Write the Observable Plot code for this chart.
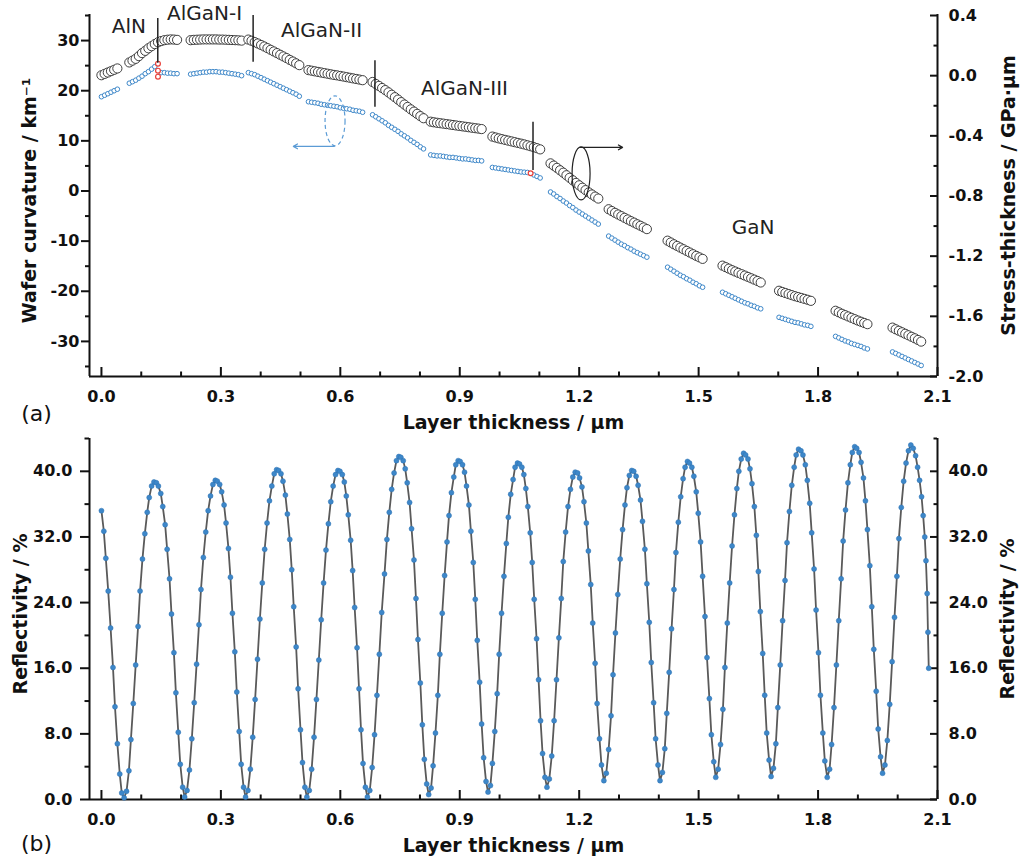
<!DOCTYPE html>
<html>
<head>
<meta charset="utf-8">
<script src="https://cdn.jsdelivr.net/npm/d3@7"></script>
<script src="https://cdn.jsdelivr.net/npm/@observablehq/plot@0.6"></script>
<style>
  body { margin: 0; background: #fff; }
  #chart { width: 1029px; height: 863px; background: #fff; }
  #chart svg { display: block; }
</style>
</head>
<body>
<div id="chart"></div>
<script>
// ---------------- DATA: panel (a) ----------------
// layer thickness (µm) of each in-situ sample, grouped by growth interval
const topThickness = [
  0.000,0.008,0.016,0.024,0.032,0.040,
  0.070,0.078,0.086,0.094,0.102,0.110,0.118,0.126,0.134,0.142,0.150,0.158,0.166,0.174,0.182,0.190,
  0.224,0.232,0.240,0.248,0.256,0.264,0.272,0.280,0.288,0.296,0.304,0.312,0.320,0.328,0.336,0.344,0.352,
  0.369,0.377,0.385,0.393,0.401,0.409,0.417,0.425,0.433,0.441,0.449,0.457,0.465,0.473,0.481,0.489,0.497,
  0.520,0.528,0.536,0.544,0.552,0.560,0.568,0.576,0.584,0.592,0.600,0.608,0.616,0.624,0.632,0.640,0.648,0.656,
  0.681,0.689,0.697,0.705,0.713,0.721,0.729,0.737,0.745,0.753,0.761,0.769,0.777,0.785,0.793,0.801,0.809,
  0.827,0.835,0.843,0.851,0.859,0.867,0.875,0.883,0.891,0.899,0.907,0.915,0.923,0.931,0.939,0.947,0.955,
  0.982,0.990,0.998,1.006,1.014,1.022,1.030,1.038,1.046,1.054,1.062,1.070,1.078,1.086,1.094,1.102,
  1.128,1.136,1.144,1.152,1.160,1.168,1.176,1.184,1.192,1.200,1.208,1.216,1.224,1.232,1.240,1.248,
  1.274,1.282,1.290,1.298,1.306,1.314,1.322,1.330,1.338,1.346,1.354,1.362,1.370,
  1.422,1.430,1.438,1.446,1.454,1.462,1.470,1.478,1.486,1.494,1.502,1.510,
  1.560,1.568,1.576,1.584,1.592,1.600,1.608,1.616,1.624,1.632,1.640,1.648,1.656,
  1.702,1.710,1.718,1.726,1.734,1.742,1.750,1.758,1.766,1.774,1.782,
  1.844,1.852,1.860,1.868,1.876,1.884,1.892,1.900,1.908,1.916,1.924,
  1.987,1.995,2.003,2.011,2.019,2.027,2.035,2.043,2.051,2.059
];
// wafer curvature (km^-1), blue open circles (null where the point is highlighted red)
const curvature = [
  18.8,19.1,19.4,19.7,20.0,20.3,
  21.5,21.8,22.1,22.5,22.9,23.4,23.8,24.3,24.8,null,23.6,23.6,23.5,23.5,23.4,23.4,
  23.3,23.4,23.5,23.6,23.7,23.7,23.8,23.8,23.8,23.7,23.7,23.6,23.5,23.4,23.3,23.2,23.0,
  23.6,23.4,23.2,22.9,22.6,22.3,22.0,21.7,21.4,21.1,20.8,20.5,20.2,19.9,19.6,19.3,18.9,
  17.8,17.7,17.6,17.5,17.3,17.2,17.1,17.0,16.9,16.8,16.6,16.5,16.4,16.3,16.1,16.0,15.9,15.7,
  15.2,14.8,14.4,14.0,13.6,13.1,12.7,12.3,11.9,11.4,11.0,10.6,10.1,9.7,9.3,8.8,8.4,
  7.2,7.1,7.0,7.0,6.9,6.8,6.7,6.7,6.6,6.5,6.4,6.4,6.3,6.2,6.1,6.1,6.0,
  4.7,4.6,4.5,4.4,4.3,4.2,4.1,4.0,3.9,3.8,3.75,3.7,null,3.2,2.9,2.6,
  -0.2,-0.6,-1.1,-1.5,-2.0,-2.4,-2.9,-3.3,-3.8,-4.2,-4.6,-5.0,-5.4,-5.8,-6.2,-6.6,
  -9.0,-9.4,-9.8,-10.2,-10.6,-10.9,-11.3,-11.6,-12.0,-12.3,-12.6,-12.9,-13.2,
  -15.2,-15.6,-16.0,-16.4,-16.8,-17.1,-17.5,-17.8,-18.2,-18.5,-18.9,-19.2,
  -20.2,-20.5,-20.8,-21.1,-21.4,-21.7,-22.0,-22.3,-22.5,-22.8,-23.0,-23.3,-23.5,
  -25.2,-25.4,-25.6,-25.8,-26.0,-26.2,-26.3,-26.5,-26.7,-26.8,-27.0,
  -29.0,-29.3,-29.6,-29.9,-30.1,-30.4,-30.6,-30.8,-31.0,-31.3,-31.5,
  -32.1,-32.4,-32.7,-33.0,-33.3,-33.6,-33.9,-34.2,-34.5,-34.8
];
// stress-thickness (GPa·µm), black open circles
const stressThickness = [
  0.003,0.012,0.021,0.030,0.039,0.048,
  0.088,0.100,0.112,0.130,0.150,0.165,0.182,0.196,0.210,0.222,0.230,0.236,0.239,0.241,0.240,0.238,
  0.236,0.238,0.239,0.240,0.241,0.241,0.241,0.241,0.241,0.240,0.240,0.239,0.238,0.237,0.236,0.235,0.233,
  0.240,0.232,0.223,0.214,0.204,0.194,0.183,0.172,0.161,0.150,0.139,0.128,0.117,0.105,0.094,0.082,0.070,
  0.037,0.033,0.029,0.025,0.021,0.017,0.013,0.009,0.005,0.002,-0.002,-0.006,-0.010,-0.014,-0.018,-0.022,-0.026,-0.030,
  -0.042,-0.055,-0.068,-0.082,-0.096,-0.111,-0.127,-0.143,-0.159,-0.176,-0.192,-0.208,-0.224,-0.239,-0.254,-0.269,-0.283,
  -0.306,-0.310,-0.313,-0.316,-0.319,-0.322,-0.325,-0.328,-0.331,-0.334,-0.337,-0.340,-0.343,-0.346,-0.349,-0.352,-0.355,
  -0.405,-0.411,-0.417,-0.422,-0.427,-0.432,-0.437,-0.442,-0.447,-0.452,-0.457,-0.463,-0.469,-0.475,-0.482,-0.490,
  -0.583,-0.598,-0.613,-0.629,-0.645,-0.662,-0.679,-0.696,-0.713,-0.729,-0.745,-0.761,-0.776,-0.790,-0.804,-0.817,
  -0.888,-0.900,-0.912,-0.923,-0.934,-0.945,-0.956,-0.967,-0.977,-0.988,-0.998,-1.009,-1.020,
  -1.097,-1.109,-1.121,-1.132,-1.143,-1.154,-1.165,-1.176,-1.187,-1.198,-1.208,-1.218,
  -1.263,-1.273,-1.283,-1.293,-1.302,-1.311,-1.320,-1.329,-1.338,-1.347,-1.356,-1.365,-1.375,
  -1.430,-1.438,-1.445,-1.452,-1.459,-1.466,-1.472,-1.478,-1.484,-1.490,-1.497,
  -1.563,-1.573,-1.583,-1.592,-1.601,-1.610,-1.619,-1.628,-1.636,-1.644,-1.652,
  -1.675,-1.686,-1.696,-1.706,-1.716,-1.726,-1.736,-1.746,-1.757,-1.768
];
// highlighted (red) curvature points at interface transitions
const redThickness = [0.142, 0.142, 0.142, 1.078];
const redCurvature = [25.4, 24.0, 22.8, 3.55];

// layer labels and interface markers
const layerLabels = ["AlN", "AlGaN-I", "AlGaN-II", "AlGaN-III", "GaN"];
const layerLabelX = [0.069, 0.259, 0.553, 0.912, 1.637];
const layerLabelY = [32.7, 35.3, 32.0, 20.4, -7.4];
const interfaceX = [0.1415, 0.381, 0.687, 1.084];
const interfaceLow = [25.5, 25.7, 16.7, 4.1];
const interfaceHigh = [34.4, 35.0, 26.0, 13.7];

// axes / ticks
const xMajor = [0.0, 0.3, 0.6, 0.9, 1.2, 1.5, 1.8, 2.1];
const xMinor = [0.1, 0.2, 0.4, 0.5, 0.7, 0.8, 1.0, 1.1, 1.3, 1.4, 1.6, 1.7, 1.9, 2.0];
const curvMajor = [-30, -20, -10, 0, 10, 20, 30];
const curvMinor = [-35, -25, -15, -5, 5, 15, 25, 35];
const stressMajor = [0.4, 0.0, -0.4, -0.8, -1.2, -1.6, -2.0];
const stressMinor = [0.2, -0.2, -0.6, -1.0, -1.4, -1.8];
const reflMajor = [0, 8, 16, 24, 32, 40];
const reflMinor = [4, 12, 20, 28, 36, 44];

// ---------------- DATA: panel (b) ----------------
const reflThickness = [
  0.000,0.006,0.011,0.017,0.023,0.029,0.034,0.040,0.046,0.051,0.057,
  0.063,0.069,0.074,0.080,0.086,0.092,0.097,0.103,0.109,0.115,0.120,0.126,0.132,
  0.138,0.143,0.149,0.154,0.160,0.165,0.171,0.176,0.182,0.187,0.193,0.198,0.204,0.209,
  0.215,0.221,0.227,0.233,0.239,0.245,0.250,0.256,0.262,0.268,0.274,0.280,0.286,
  0.291,0.297,0.302,0.308,0.313,0.319,0.324,0.329,0.335,0.340,0.346,0.351,0.357,0.362,
  0.368,0.374,0.380,0.386,0.392,0.398,0.404,0.410,0.416,0.422,0.428,0.434,0.440,
  0.445,0.451,0.456,0.462,0.467,0.473,0.478,0.483,0.489,0.494,0.500,0.505,0.511,0.516,
  0.522,0.528,0.534,0.540,0.546,0.552,0.558,0.564,0.570,0.576,0.582,0.588,0.594,
  0.599,0.605,0.610,0.615,0.620,0.626,0.631,0.636,0.642,0.647,0.652,0.657,0.663,0.668,
  0.674,0.680,0.686,0.692,0.698,0.704,0.711,0.717,0.723,0.729,0.735,0.741,0.747,
  0.752,0.758,0.763,0.768,0.774,0.779,0.785,0.790,0.795,0.801,0.806,0.811,0.817,0.822,
  0.828,0.833,0.839,0.845,0.850,0.856,0.862,0.868,0.873,0.879,0.885,0.890,0.896,
  0.901,0.907,0.912,0.917,0.923,0.928,0.934,0.939,0.944,0.950,0.955,0.960,0.966,0.971,
  0.977,0.982,0.988,0.994,0.999,1.005,1.011,1.017,1.022,1.028,1.034,1.039,1.045,
  1.050,1.056,1.061,1.066,1.071,1.077,1.082,1.087,1.093,1.098,1.103,1.108,1.114,1.119,
  1.125,1.131,1.137,1.143,1.149,1.155,1.160,1.166,1.172,1.178,1.184,1.190,
  1.196,1.201,1.207,1.212,1.218,1.223,1.229,1.234,1.240,1.245,1.251,1.256,1.262,
  1.268,1.274,1.280,1.285,1.291,1.297,1.303,1.309,1.315,1.320,1.326,1.332,
  1.337,1.343,1.348,1.354,1.359,1.365,1.370,1.376,1.381,1.387,1.392,1.398,1.403,
  1.409,1.415,1.420,1.426,1.432,1.438,1.443,1.449,1.455,1.461,1.466,1.472,
  1.477,1.483,1.488,1.494,1.499,1.505,1.510,1.516,1.521,1.527,1.532,1.538,1.543,
  1.549,1.555,1.561,1.566,1.572,1.578,1.584,1.590,1.596,1.601,1.607,1.613,
  1.618,1.624,1.629,1.634,1.640,1.645,1.650,1.655,1.661,1.666,1.671,1.677,1.682,
  1.688,1.694,1.699,1.705,1.711,1.717,1.722,1.728,1.734,1.740,1.745,1.751,
  1.757,1.762,1.768,1.773,1.779,1.784,1.790,1.795,1.801,1.806,1.812,1.817,1.823,
  1.829,1.834,1.840,1.846,1.852,1.858,1.863,1.869,1.875,1.881,1.886,1.892,
  1.897,1.903,1.908,1.914,1.919,1.924,1.930,1.935,1.940,1.946,1.951,1.957,1.962,
  1.968,1.974,1.980,1.986,1.992,1.998,2.003,2.009,2.015,2.021,2.027,2.033,
  2.039,2.045,2.050,2.055,2.060,2.064,2.068,2.071,2.074,2.076,2.078
];
const reflectivity = [
  35.2,32.7,29.4,25.4,20.9,16.1,11.3,6.8,3.1,0.8,0.2,
  1.0,3.5,7.3,11.7,16.4,21.1,25.4,29.3,32.4,35.0,36.8,38.2,38.7,
  38.6,38.2,37.3,35.7,33.5,30.5,26.9,22.6,17.9,13.0,8.2,4.3,1.5,0.3,
  1.1,3.6,7.4,11.8,16.5,21.3,25.6,29.5,32.6,35.2,37.0,38.4,38.9,
  38.8,38.4,37.5,35.9,33.7,30.6,27.1,22.7,18.0,13.1,8.3,4.3,1.5,0.3,
  1.1,3.7,7.6,12.2,17.1,22.0,26.4,30.5,33.7,36.4,38.2,39.7,40.2,
  40.1,39.7,38.8,37.1,34.8,31.7,28.0,23.5,18.6,13.5,8.5,4.5,1.5,0.3,
  1.1,3.7,7.6,12.2,17.0,21.9,26.4,30.4,33.6,36.3,38.2,39.6,40.1,
  40.0,39.6,38.7,37.0,34.7,31.6,27.9,23.4,18.5,13.5,8.5,4.4,1.5,0.3,
  1.1,3.9,7.9,12.7,17.7,22.8,27.5,31.7,35.0,37.8,39.8,41.3,41.8,
  41.7,41.3,40.3,38.6,36.2,33.0,29.2,24.5,19.5,14.2,9.1,4.9,1.9,0.6,
  1.4,4.1,8.1,12.7,17.7,22.7,27.3,31.4,34.6,37.4,39.3,40.8,41.3,
  41.2,40.8,39.9,38.2,35.9,32.7,28.9,24.4,19.4,14.3,9.2,5.1,2.2,0.9,
  1.7,4.4,8.3,12.9,17.7,22.7,27.2,31.2,34.4,37.2,39.0,40.5,41.0,
  40.9,40.5,39.6,37.9,35.7,32.5,28.9,24.4,19.6,14.6,9.6,5.6,2.7,1.5,
  2.5,5.3,9.6,14.6,19.7,24.5,29.0,32.6,35.7,37.8,39.3,39.9,
  39.8,39.2,38.1,36.3,33.7,30.3,26.2,21.5,16.6,11.7,7.4,4.2,2.3,
  3.2,6.1,10.2,15.2,20.3,25.0,29.3,32.9,35.9,38.0,39.5,40.1,
  40.0,39.4,38.3,36.5,33.9,30.5,26.3,21.6,16.7,11.8,7.4,4.2,2.3,
  3.3,6.2,10.5,15.5,20.8,25.6,30.1,33.8,36.9,39.1,40.5,41.2,
  41.0,40.5,39.4,37.5,34.9,31.4,27.2,22.3,17.3,12.3,7.9,4.6,2.7,
  3.7,6.7,11.0,16.1,21.5,26.4,30.9,34.7,37.9,40.0,41.5,42.2,
  42.0,41.5,40.3,38.5,35.7,32.2,27.8,22.9,17.8,12.7,8.1,4.8,2.8,
  3.8,6.8,11.2,16.4,21.8,26.7,31.3,35.1,38.3,40.5,42.0,42.7,
  42.5,42.0,40.8,38.9,36.1,32.5,28.1,23.1,17.9,12.7,8.1,4.7,2.7,
  3.7,6.7,11.2,16.4,21.8,26.9,31.5,35.3,38.6,40.8,42.3,43.0,
  42.8,42.3,41.1,39.2,36.4,32.9,28.5,23.5,18.3,13.2,8.6,5.2,3.2,
  4.2,7.2,11.6,16.8,22.2,27.2,31.8,35.6,38.8,41.0,42.5,43.2,
  42.8,41.9,40.5,38.9,36.9,34.6,32.0,29.1,25.1,20.4,16.0
];

// ---------------- LAYOUT / STYLE ----------------
const FONT = "'DejaVu Sans', 'Liberation Sans', Arial, sans-serif";
const INK = "#111";
const BLUE = "#3d87c9";
const W = 1029, mL = 89, mR = 92, plotW = W - mL - mR;
const xDomain = [-0.03, 2.1];
// right axis of (a): stress-thickness s shown at curvature position 23 + 30*s
const S0 = 23, SK = 30;
const toC = s => S0 + SK * s;

const topRows = topThickness.map((x, i) => ({x, c: curvature[i], s: stressThickness[i]}));
const redRows = redThickness.map((x, i) => ({x, c: redCurvature[i]}));
const labelRows = layerLabels.map((t, i) => ({t, x: layerLabelX[i], y: layerLabelY[i]}));
const ifaceRows = interfaceX.map((x, i) => ({x, y1: interfaceLow[i], y2: interfaceHigh[i]}));
const reflRows = reflThickness.map((x, i) => ({x, r: reflectivity[i]}));

function ellipse(cx, cy, rx, ry, stroke, dash) {
  return (index, scales) => {
    const e = d3.create("svg:ellipse")
      .attr("cx", scales.x(cx)).attr("cy", scales.y(cy))
      .attr("rx", rx).attr("ry", ry)
      .attr("fill", "none").attr("stroke", stroke).attr("stroke-width", 1.2);
    if (dash) e.attr("stroke-dasharray", dash);
    return e.node();
  };
}

const titleOpts = {text: d => d, textAnchor: "middle", lineAnchor: "middle",
  fontSize: 19, fontWeight: "bold", fill: INK};

function frameMarks(ymin, plotH) {
  return [
    Plot.ruleX([xDomain[0]], {stroke: INK, strokeWidth: 2}),
    Plot.ruleX([xDomain[1]], {stroke: INK, strokeWidth: 2}),
    Plot.ruleY([ymin], {stroke: INK, strokeWidth: 2}),
    Plot.tickX(xMajor, {x: d => d, stroke: INK, strokeWidth: 2, insetTop: plotH - 9}),
    Plot.tickX(xMinor, {x: d => d, stroke: INK, strokeWidth: 2, insetTop: plotH - 4.5}),
    Plot.axisX(xMajor, {anchor: "bottom", tickSize: 0, tickPadding: 14, tickFormat: d => d.toFixed(1),
      label: null, fontSize: 16, fontWeight: "bold", color: INK})
  ];
}

// ---------------- PANEL (a) ----------------
const topH = 420, topMT = 14, topMB = 44, topPH = topH - topMT - topMB;
const topPlot = Plot.plot({
  width: W, height: topH,
  marginLeft: mL, marginRight: mR, marginTop: topMT, marginBottom: topMB,
  style: {fontFamily: FONT, fontSize: "16px", fontWeight: "bold", color: INK, background: "white", overflow: "visible"},
  x: {domain: xDomain},
  y: {domain: [-37, 35.2]},
  marks: [
    ...frameMarks(-37, topPH),
    Plot.axisY(curvMajor, {anchor: "left", tickSize: 8, tickPadding: 2, tickFormat: d => String(d),
      label: null, fontSize: 16, fontWeight: "bold", strokeWidth: 2, color: INK}),
    Plot.axisY(curvMinor, {anchor: "left", tickSize: 4, tickFormat: () => "", label: null, strokeWidth: 2, color: INK}),
    Plot.tickY(stressMajor.map(toC), {y: d => d, stroke: INK, strokeWidth: 2, insetLeft: plotW - 7}),
    Plot.tickY(stressMinor.map(toC), {y: d => d, stroke: INK, strokeWidth: 2, insetLeft: plotW - 3.5}),
    Plot.axisY(stressMajor.map(toC), {anchor: "right", tickSize: 0, tickPadding: 11,
      tickFormat: c => ((c - S0) / SK).toFixed(1), label: null, fontSize: 16, fontWeight: "bold", color: INK}),
    // data
    Plot.dot(topRows, {x: "x", y: "c", r: 2.3, stroke: BLUE, fill: "white", strokeWidth: 1}),
    Plot.dot(redRows, {x: "x", y: "c", r: 2.4, stroke: "#e8403a", fill: "white", strokeWidth: 1.2}),
    Plot.dot(topRows, {x: "x", y: d => toC(d.s), r: 4.6, stroke: "#2a2a2a", fill: "white", strokeWidth: 0.9}),
    Plot.ruleX(ifaceRows, {x: "x", y1: "y1", y2: "y2", stroke: "#222", strokeWidth: 1.5}),
    // annotations
    Plot.text(labelRows, {x: "x", y: "y", text: "t", fontSize: 20, fontWeight: "normal", fill: "#222"}),
    ellipse(0.588, 13.9, 10, 25, "#5b9bd5", "4,3"),
    Plot.arrow([{x1: 0.585, y1: 8.9, x2: 0.482, y2: 8.9}], {x1: "x1", y1: "y1", x2: "x2", y2: "y2",
      stroke: "#5b9bd5", strokeWidth: 1.2, headLength: 6}),
    ellipse(1.206, 3.4, 9, 26.5, "#222", null),
    Plot.arrow([{x1: 1.202, y1: 8.7, x2: 1.309, y2: 8.7}], {x1: "x1", y1: "y1", x2: "x2", y2: "y2",
      stroke: "#222", strokeWidth: 1.2, headLength: 6}),
    // titles
    Plot.text(["Wafer curvature / km⁻¹"], {...titleOpts, frameAnchor: "left", dx: -60, dy: 5, rotate: -90}),
    Plot.text(["Stress-thickness / GPa·μm"], {...titleOpts, frameAnchor: "right", dx: 71, rotate: -90}),
    Plot.text(["Layer thickness / μm"], {...titleOpts, frameAnchor: "bottom", dy: 46}),
    Plot.text(["(a)"], {...titleOpts, frameAnchor: "bottom-left", dx: -53, dy: 37, fontSize: 22, fontWeight: "normal"})
  ]
});

// ---------------- PANEL (b) ----------------
const botH = 443, botMT = 18, botMB = 64, botPH = botH - botMT - botMB;
const botPlot = Plot.plot({
  width: W, height: botH,
  marginLeft: mL, marginRight: mR, marginTop: botMT, marginBottom: botMB,
  style: {fontFamily: FONT, fontSize: "16px", fontWeight: "bold", color: INK, background: "white", overflow: "visible"},
  x: {domain: xDomain},
  y: {domain: [0, 44]},
  marks: [
    ...frameMarks(0, botPH),
    Plot.axisY(reflMajor, {anchor: "left", tickSize: 9, tickPadding: 8, tickFormat: d => d.toFixed(1),
      label: null, fontSize: 16, fontWeight: "bold", strokeWidth: 2, color: INK}),
    Plot.axisY(reflMinor, {anchor: "left", tickSize: 4.5, tickFormat: () => "", label: null, strokeWidth: 2, color: INK}),
    Plot.tickY(reflMajor, {y: d => d, stroke: INK, strokeWidth: 2, insetLeft: plotW - 7}),
    Plot.tickY(reflMinor, {y: d => d, stroke: INK, strokeWidth: 2, insetLeft: plotW - 3.5}),
    Plot.axisY(reflMajor, {anchor: "right", tickSize: 0, tickPadding: 11, tickFormat: d => d.toFixed(1),
      label: null, fontSize: 16, fontWeight: "bold", color: INK}),
    Plot.line(reflRows, {x: "x", y: "r", stroke: "#5a5a5a", strokeWidth: 1.8}),
    Plot.dot(reflRows, {x: "x", y: "r", r: 2.5, fill: BLUE, stroke: "#2f72b3", strokeWidth: 0.5}),
    Plot.text(["Reflectivity / %"], {...titleOpts, frameAnchor: "left", dx: -69, dy: -5, rotate: -90}),
    Plot.text(["Reflectivity / %"], {...titleOpts, frameAnchor: "right", dx: 70, rotate: -90}),
    Plot.text(["Layer thickness / μm"], {...titleOpts, frameAnchor: "bottom", dy: 46}),
    Plot.text(["(b)"], {...titleOpts, frameAnchor: "bottom-left", dx: -53, dy: 44, fontSize: 22, fontWeight: "normal"})
  ]
});

const chart = document.getElementById("chart");
chart.appendChild(topPlot);
chart.appendChild(botPlot);
</script>
</body>
</html>
